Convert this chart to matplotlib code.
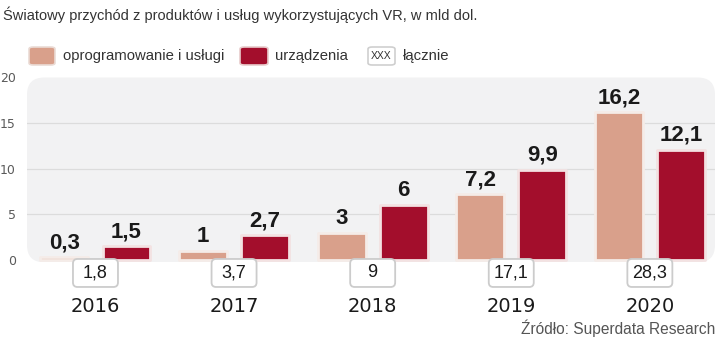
import matplotlib.pyplot as plt
from matplotlib.patches import FancyBboxPatch
import matplotlib.transforms as mtransforms
import numpy as np

# data
years = ['2016', '2017', '2018', '2019', '2020']
software = [0.3, 1, 3, 7.2, 16.2]      # oprogramowanie i usługi
hardware = [1.5, 2.7, 6, 9.9, 12.1]    # urządzenia
totals = ['1,8', '3,7', '9', '17,1', '28,3']
yticks = [0, 5, 10, 15, 20]

soft_col = '#d9a08b'
red_col = '#a30e2c'
narrow = ['Liberation Sans', 'DejaVu Sans']

def fmt(v):
    return ('%g' % v).replace('.', ',')

fig = plt.figure(figsize=(7.2, 3.41), dpi=100)
ax = fig.add_axes([27/720, 78.7/341, 688/720, 184.8/341])
ax.set_xlim(-0.494, 4.47)
ax.set_ylim(-0.25, 20)
ax.patch.set_visible(False)
ax.add_patch(FancyBboxPatch((0, 0), 1, 1, boxstyle='round,pad=0,rounding_size=0.025',
                            mutation_aspect=688/184.8, transform=ax.transAxes,
                            facecolor='#f2f2f3', edgecolor='none', zorder=0))
for s in ax.spines.values():
    s.set_visible(False)

for g in [5, 10, 15]:
    ax.axhline(g, color='#dcdcdc', lw=0.9, zorder=1)

x = np.arange(len(years))
off = 0.224
w = 0.346
bs = ax.bar(x - off, software, w, color=soft_col, edgecolor='#f5ece8', linewidth=2, zorder=2)
br = ax.bar(x + off, hardware, w, color=red_col, edgecolor='#f3e2e2', linewidth=2, zorder=2)
for p in list(bs) + list(br):
    p.set_joinstyle('round')

for i in range(len(years)):
    ax.text(x[i] - off, software[i] + 0.45, fmt(software[i]), ha='center', va='bottom',
            fontsize=16, fontweight='bold', family=narrow, color='#1a1a1a', zorder=4)
    ax.text(x[i] + off, hardware[i] + 0.45, fmt(hardware[i]), ha='center', va='bottom',
            fontsize=16, fontweight='bold', family=narrow, color='#1a1a1a', zorder=4)
    # total box, fixed size in inches around the data point
    tr = fig.dpi_scale_trans + mtransforms.ScaledTranslation(x[i], -1.42, ax.transData)
    ax.add_patch(FancyBboxPatch((-0.225, -0.14), 0.45, 0.28,
                                boxstyle='round,pad=0,rounding_size=0.045',
                                transform=tr, facecolor='white', edgecolor='#cccccc',
                                linewidth=1.3, clip_on=False, zorder=5))
    ax.text(x[i], -1.42, totals[i], ha='center', va='center', fontsize=13,
            family=narrow, color='#1a1a1a', clip_on=False, zorder=6)
    ax.text(x[i], -5.1, years[i], ha='center', va='center', fontsize=14,
            color='#1a1a1a', clip_on=False)

ax.set_yticks(yticks)
ax.set_yticklabels([str(t) for t in yticks])
ax.tick_params(axis='y', length=0, pad=8, labelsize=9, labelcolor='#5a5a5a')
ax.set_xticks([])

# title
fig.text(3/720, 1 - 15/341, 'Światowy przychód z produktów i usług wykorzystujących VR, w mld dol.',
         ha='left', va='center', fontsize=10.5, family=narrow, color='#333333')

# legend
ly = 1 - 56/341
def leg_box(x0, x1, fc, ec):
    fig.patches.append(FancyBboxPatch((x0/720, ly - 9/341), (x1 - x0)/720, 18/341,
                                      boxstyle='round,pad=0,rounding_size=0.006',
                                      transform=fig.transFigure, facecolor=fc,
                                      edgecolor=ec, linewidth=1.2))
leg_box(29, 55, soft_col, '#eadbd5')
fig.text(63/720, ly, 'oprogramowanie i usługi', ha='left', va='center', fontsize=10.7,
         family=narrow, color='#333333')
leg_box(240, 268, red_col, '#e8cccc')
fig.text(275/720, ly, 'urządzenia', ha='left', va='center', fontsize=10.7,
         family=narrow, color='#333333')
leg_box(368, 395, 'white', '#cfcfcf')
fig.text(381.5/720, ly, 'XXX', ha='center', va='center', fontsize=7.5,
         family=narrow, color='#333333')
fig.text(403/720, ly, 'łącznie', ha='left', va='center', fontsize=10.7,
         family=narrow, color='#333333')

# source
fig.text(715/720, 1 - 328/341, 'Źródło: Superdata Research', ha='right', va='center',
         fontsize=11.2, family=narrow, color='#555555')

fig.savefig('out.png', dpi=100)
